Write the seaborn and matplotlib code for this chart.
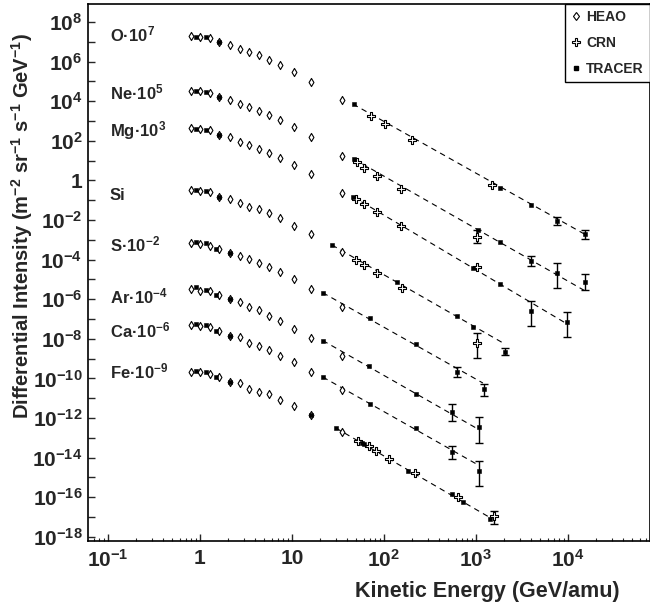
import matplotlib
matplotlib.use("Agg")
import matplotlib.pyplot as plt
import numpy as np
import pandas as pd
import seaborn as sns
from matplotlib.lines import Line2D
from matplotlib.ticker import FixedLocator, FixedFormatter, LogLocator, NullFormatter

# ---------------------------------------------------------------- data
elements = ["O", "Ne", "Mg", "Si", "S", "Ar", "Ca", "Fe"]
element_labels = ["O·10$^{7}$", "Ne·10$^{5}$", "Mg·10$^{3}$", "Si",
                  "S·10$^{-2}$", "Ar·10$^{-4}$", "Ca·10$^{-6}$", "Fe·10$^{-9}$"]

# HEAO-3 spectra (scaled), GeV/amu
heao_energy = [0.8, 1.0, 1.3, 1.6, 2.1, 2.7, 3.4, 4.4, 5.6, 7.5, 10.6, 16.2, 35.0]
heao_O = [2.03e7, 1.81e7, 1.61e7, 9.4e6, 6.9e6, 4.3e6, 3.2e6, 2.15e6, 1.2e6, 6.7e5, 3.0e5, 9.7e4, 1.15e4]
heao_Ne = [3.39e4, 3.09e4, 2.75e4, 1.57e4, 1.15e4, 7.2e3, 4.9e3, 3.3e3, 1.94e3, 1.12e3, 481, 161, 17.7]
heao_Mg = [428, 394, 351, 196, 150, 90, 61, 38.5, 25, 14, 6.0, 2.1, 0.239]
heao_Si = [0.327, 0.299, 0.265, 0.150, 0.111, 0.070, 0.047, 0.035, 0.0218, 0.0122, 5.15e-3, 1.96e-3, 2.34e-4]
heao_S = [7.1e-4, 6.5e-4, 4.9e-4, 3.3e-4, 2.23e-4, 1.57e-4, 1.07e-4, 7.0e-5, 4.4e-5, 2.29e-5, 1.01e-5, 3.3e-6, 4.2e-7]
heao_Ar = [3.16e-6, 2.75e-6, 2.6e-6, 1.63e-6, 9.9e-7, 7.5e-7, 3.9e-7, 2.85e-7, 1.47e-7, 7.9e-8, 3.1e-8, 1.06e-8, 1.3e-9]
heao_Ca = [4.98e-8, 4.43e-8, 3.94e-8, 2.48e-8, 1.44e-8, 1.19e-8, 6.4e-9, 4.5e-9, 2.7e-9, 1.35e-9, 6.5e-10, 2.18e-10, 2.6e-11]
heao_Fe = [2.18e-10, 1.99e-10, 1.67e-10, 1.14e-10, 6.8e-11, 5.7e-11, 2.8e-11, 2.13e-11, 1.63e-11, 8.1e-12, 4.0e-12, 1.42e-12, 1.96e-13]

# low-energy square points
lowsq_e_O = [0.9, 1.15, 1.6]
lowsq_f_O = [1.85e7, 1.69e7, 9.4e6]
lowsq_e_Ne = [0.9, 1.15, 1.6]
lowsq_f_Ne = [3.25e4, 2.9e4, 1.57e4]
lowsq_e_Mg = [0.9, 1.15, 1.6]
lowsq_f_Mg = [410, 372, 196]
lowsq_e_Si = [0.9, 1.15, 1.6]
lowsq_f_Si = [0.313, 0.28, 0.150]
lowsq_e_S = [0.9, 1.15, 1.5, 2.1]
lowsq_f_S = [8.0e-4, 6.9e-4, 3.4e-4, 2.23e-4]
lowsq_e_Ar = [0.9, 1.15, 1.5, 2.1]
lowsq_f_Ar = [4.0e-6, 2.9e-6, 1.7e-6, 9.9e-7]
lowsq_e_Ca = [0.9, 1.15, 1.5, 2.1]
lowsq_f_Ca = [5.9e-8, 4.7e-8, 2.55e-8, 1.44e-8]
lowsq_e_Fe = [0.9, 1.15, 1.5, 2.1, 16.2]
lowsq_f_Fe = [2.5e-10, 2.1e-10, 1.17e-10, 6.8e-11, 1.42e-12]

# TRACER: energy, flux, lower / upper error bound
tracer_e_O = [47.2, 1824, 3935, 7650, 15300]
tracer_f_O = [7.2e3, 0.428, 0.0573, 9.2e-3, 1.9e-3]
tracer_lo_O = [7.2e3, 0.428, 0.0573, 5.4e-3, 1.14e-3]
tracer_hi_O = [7.2e3, 0.428, 0.0573, 0.0147, 3.13e-3]
tracer_e_Ne = [47.2, 1059, 1824, 3935, 7650, 15300]
tracer_f_Ne = [12.1, 3.13e-3, 7.5e-4, 8.8e-5, 2.18e-5, 7.7e-6]
tracer_lo_Ne = [12.1, 3.13e-3, 7.5e-4, 4.75e-5, 3.81e-6, 2.92e-6]
tracer_hi_Ne = [12.1, 3.13e-3, 7.5e-4, 1.57e-4, 6.97e-5, 1.81e-5]
tracer_e_Mg = [46.4, 935, 1824, 3935, 9820]
tracer_f_Mg = [0.150, 3.64e-5, 6.2e-6, 2.54e-7, 7.3e-8]
tracer_lo_Mg = [0.150, 3.64e-5, 6.2e-6, 4.43e-8, 1.19e-8]
tracer_hi_Mg = [0.150, 3.64e-5, 6.2e-6, 8.1e-7, 2.34e-7]
tracer_e_Si = [27.4, 137, 617, 921, 2065]
tracer_f_Si = [5.46e-4, 7.7e-6, 1.42e-7, 4.08e-8, 2.23e-9]
tracer_lo_Si = [5.46e-4, 7.7e-6, 1.42e-7, 4.08e-8, 1.52e-9]
tracer_hi_Si = [5.46e-4, 7.7e-6, 1.42e-7, 4.08e-8, 3.56e-9]
tracer_e_S = [21.6, 70, 221, 630, 1230]
tracer_f_S = [2.13e-6, 1.16e-7, 5.3e-9, 2.18e-10, 2.92e-11]
tracer_lo_S = [2.13e-6, 1.16e-7, 5.3e-9, 1.14e-10, 1.29e-11]
tracer_hi_S = [2.13e-6, 1.16e-7, 5.3e-9, 3.9e-10, 5.5e-11]
tracer_e_Ar = [21.6, 69.5, 221, 556, 1086]
tracer_f_Ar = [8.2e-9, 4.23e-10, 1.59e-11, 2.08e-12, 3.5e-13]
tracer_lo_Ar = [8.2e-9, 4.23e-10, 1.59e-11, 7.3e-13, 5.7e-14]
tracer_hi_Ar = [8.2e-9, 4.23e-10, 1.59e-11, 4.92e-12, 1.16e-12]
tracer_e_Ca = [21.6, 70.5, 221, 556, 1086]
tracer_f_Ca = [1.18e-10, 4.92e-12, 3.0e-13, 1.92e-14, 2.1e-15]
tracer_lo_Ca = [1.18e-10, 4.92e-12, 3.0e-13, 9.0e-15, 3.7e-16]
tracer_hi_Ca = [1.18e-10, 4.92e-12, 3.0e-13, 3.86e-14, 6.7e-15]
tracer_e_Fe = [30.1, 58.1, 60.6, 181, 556, 728, 1409]
tracer_f_Fe = [3.1e-13, 5.7e-14, 4.86e-14, 2.18e-15, 1.45e-16, 5.7e-17, 8.2e-18]
tracer_lo_Fe = [3.1e-13, 5.7e-14, 4.86e-14, 2.18e-15, 1.45e-16, 5.7e-17, 8.2e-18]
tracer_hi_Fe = [3.1e-13, 5.7e-14, 4.86e-14, 2.18e-15, 1.45e-16, 5.7e-17, 8.2e-18]

# CRN
crn_e_O = [71.6, 102.5, 203, 1482]
crn_f_O = [1.85e3, 705, 110, 0.566]
crn_lo_O = [1.85e3, 705, 110, 0.566]
crn_hi_O = [1.85e3, 705, 110, 0.566]
crn_e_Ne = [50.5, 61.1, 83.3, 152, 1018]
crn_f_Ne = [8.8, 4.08, 1.67, 0.368, 1.44e-3]
crn_lo_Ne = [8.8, 4.08, 1.67, 0.368, 7.1e-4]
crn_hi_Ne = [8.8, 4.08, 1.67, 0.368, 3.13e-3]
crn_e_Mg = [49.6, 61.1, 83.3, 152, 1018]
crn_f_Mg = [0.115, 0.062, 0.0262, 5.15e-3, 4.38e-5]
crn_lo_Mg = [0.115, 0.062, 0.0262, 5.15e-3, 4.38e-5]
crn_hi_Mg = [0.115, 0.062, 0.0262, 5.15e-3, 4.38e-5]
crn_e_Si = [49.6, 60.6, 83.3, 156, 1018]
crn_f_Si = [9.5e-5, 5.33e-5, 2.18e-5, 3.81e-6, 5.9e-9]
crn_lo_Si = [9.5e-5, 5.33e-5, 2.18e-5, 3.81e-6, 1.04e-9]
crn_hi_Si = [9.5e-5, 5.33e-5, 2.18e-5, 3.81e-6, 1.9e-8]
crn_e_Fe = [51.9, 68.4, 81.5, 114, 219, 643, 1553]
crn_f_Fe = [7.1e-14, 3.94e-14, 2.15e-14, 8.2e-15, 1.73e-15, 1.02e-16, 1.08e-17]
crn_lo_Fe = [7.1e-14, 3.94e-14, 2.15e-14, 8.2e-15, 1.73e-15, 1.02e-16, 4.65e-18]
crn_hi_Fe = [7.1e-14, 3.94e-14, 2.15e-14, 8.2e-15, 1.73e-15, 1.02e-16, 2.06e-17]

# power-law fits: flux = norm * (E / emin)^-gamma between emin and emax
fit_emin = [46, 47, 46, 27.2, 21.6, 21.6, 21.6, 30.1]
fit_emax = [16500, 16100, 9750, 1965, 1190, 1105, 1052, 1385]
fit_norm = [7.2e3, 12.1, 0.150, 5.46e-4, 2.13e-6, 8.2e-9, 1.18e-10, 3.1e-13]
fit_gamma = [2.61, 2.65, 2.76, 2.66, 2.62, 2.65, 2.63, 2.70]

# ---------------------------------------------------------------- tables
heao_flux = [heao_O, heao_Ne, heao_Mg, heao_Si, heao_S, heao_Ar, heao_Ca, heao_Fe]
heao_df = pd.DataFrame({
    "element": np.repeat(elements, len(heao_energy)),
    "energy": heao_energy * len(elements),
    "flux": np.concatenate(heao_flux),
})

lowsq_df = pd.DataFrame({
    "energy": lowsq_e_O + lowsq_e_Ne + lowsq_e_Mg + lowsq_e_Si
              + lowsq_e_S + lowsq_e_Ar + lowsq_e_Ca + lowsq_e_Fe,
    "flux": lowsq_f_O + lowsq_f_Ne + lowsq_f_Mg + lowsq_f_Si
            + lowsq_f_S + lowsq_f_Ar + lowsq_f_Ca + lowsq_f_Fe,
})

tracer_df = pd.DataFrame({
    "energy": tracer_e_O + tracer_e_Ne + tracer_e_Mg + tracer_e_Si
              + tracer_e_S + tracer_e_Ar + tracer_e_Ca + tracer_e_Fe,
    "flux": tracer_f_O + tracer_f_Ne + tracer_f_Mg + tracer_f_Si
            + tracer_f_S + tracer_f_Ar + tracer_f_Ca + tracer_f_Fe,
    "lo": tracer_lo_O + tracer_lo_Ne + tracer_lo_Mg + tracer_lo_Si
          + tracer_lo_S + tracer_lo_Ar + tracer_lo_Ca + tracer_lo_Fe,
    "hi": tracer_hi_O + tracer_hi_Ne + tracer_hi_Mg + tracer_hi_Si
          + tracer_hi_S + tracer_hi_Ar + tracer_hi_Ca + tracer_hi_Fe,
})

crn_df = pd.DataFrame({
    "energy": crn_e_O + crn_e_Ne + crn_e_Mg + crn_e_Si + crn_e_Fe,
    "flux": crn_f_O + crn_f_Ne + crn_f_Mg + crn_f_Si + crn_f_Fe,
    "lo": crn_lo_O + crn_lo_Ne + crn_lo_Mg + crn_lo_Si + crn_lo_Fe,
    "hi": crn_hi_O + crn_hi_Ne + crn_hi_Mg + crn_hi_Si + crn_hi_Fe,
})

fit_rows = []
for el, e0, e1, n0, g in zip(elements, fit_emin, fit_emax, fit_norm, fit_gamma):
    for e in (e0, e1):
        fit_rows.append({"element": el, "energy": e, "flux": n0 * (e / e0) ** (-g)})
fit_df = pd.DataFrame(fit_rows)

# ---------------------------------------------------------------- style
sns.set_style("ticks")
plt.rcParams["font.family"] = ["Liberation Sans", "DejaVu Sans"]
plt.rcParams["font.weight"] = "bold"
plt.rcParams["axes.labelweight"] = "bold"
plt.rcParams["mathtext.fontset"] = "custom"
plt.rcParams["mathtext.rm"] = "Liberation Sans:bold"
plt.rcParams["mathtext.bf"] = "Liberation Sans:bold"
plt.rcParams["mathtext.it"] = "Liberation Sans:bold"
plt.rcParams["mathtext.sf"] = "Liberation Sans:bold"
plt.rcParams["mathtext.default"] = "bf"

fig = plt.figure(figsize=(6.5, 6.12), dpi=100)
ax = fig.add_axes([88 / 650, 71 / 612, 562 / 650, 537 / 612])
ax.set_xscale("log")
ax.set_yscale("log")

# dashed power-law fits
sns.lineplot(data=fit_df, x="energy", y="flux", units="element", estimator=None,
             color="black", linewidth=0.8, linestyle=(0, (5, 4)), ax=ax,
             legend=False, zorder=1)

# error bars
for df in (tracer_df, crn_df):
    m = (df["lo"] < df["flux"]) | (df["hi"] > df["flux"])
    sub = df[m]
    ax.errorbar(sub["energy"], sub["flux"],
                yerr=[sub["flux"] - sub["lo"], sub["hi"] - sub["flux"]],
                fmt="none", ecolor="black", elinewidth=1.0, capsize=2.8,
                capthick=1.0, zorder=2)

sns.scatterplot(data=heao_df, x="energy", y="flux", marker="d", s=17,
                color="white", edgecolor="black", linewidth=0.8, ax=ax,
                legend=False, zorder=3)
sns.scatterplot(data=lowsq_df, x="energy", y="flux", marker="s", s=9,
                color="black", edgecolor="black", linewidth=0.4, ax=ax,
                legend=False, zorder=4)
sns.scatterplot(data=crn_df, x="energy", y="flux", marker="P", s=32,
                color="white", edgecolor="black", linewidth=0.8, ax=ax,
                legend=False, zorder=3)
sns.scatterplot(data=tracer_df, x="energy", y="flux", marker="s", s=11,
                color="black", edgecolor="black", linewidth=0.4, ax=ax,
                legend=False, zorder=4)

# ---------------------------------------------------------------- axes
ax.set_xlim(0.0607, 7.8e4)
ax.set_ylim(10 ** -18.212, 10 ** 8.909)

xt = [0.1, 1, 10, 100, 1000, 10000]
xt_labels = ["10$^{-1}$", "1", "10", "10$^{2}$", "10$^{3}$", "10$^{4}$"]
ax.xaxis.set_major_locator(FixedLocator(xt))
ax.xaxis.set_major_formatter(FixedFormatter(xt_labels))
ax.xaxis.set_minor_locator(LogLocator(base=10, subs=np.arange(2, 10), numticks=20))
ax.xaxis.set_minor_formatter(NullFormatter())

y_exp = np.arange(-18, 9)
yt = [10.0 ** k for k in y_exp]
yt_labels = [("1" if k == 0 else "10$^{%d}$" % k) if k % 2 == 0 else "" for k in y_exp]
ax.yaxis.set_major_locator(FixedLocator(yt))
ax.yaxis.set_major_formatter(FixedFormatter(yt_labels))
ax.yaxis.set_minor_locator(FixedLocator([]))

ax.tick_params(which="major", direction="in", length=5, width=1.0,
               labelsize=15, top=False, right=False)
ax.tick_params(axis="x", which="major", pad=6)
ax.tick_params(axis="y", which="major", pad=4)
ax.tick_params(which="minor", direction="in", length=2.5, width=0.8,
               top=False, right=False)
for sp in ax.spines.values():
    sp.set_linewidth(1.2)
    sp.set_color("black")

ax.set_xlabel("")
ax.set_ylabel("")
fig.text(22 / 650, 1 - 226 / 612,
         "Differential Intensity (m$^{-2}$ sr$^{-1}$ s$^{-1}$ GeV$^{-1}$)",
         rotation=90, ha="center", va="center", fontsize=14.5, fontweight="bold")
fig.text(620 / 650, 1 - 592 / 612, "Kinetic Energy (GeV/amu)",
         ha="right", va="center", fontsize=15.5, fontweight="bold")

label_y = [0.930, 0.8225, 0.754, 0.635, 0.5387, 0.4426, 0.3786, 0.303]
for txt, yy in zip(element_labels, label_y):
    ax.text(0.039, yy, txt, transform=ax.transAxes, ha="left", va="baseline",
            fontsize=12, fontweight="bold")

handles = [
    Line2D([], [], marker="d", linestyle="none", markersize=4.5,
           markerfacecolor="white", markeredgecolor="black", markeredgewidth=0.8),
    Line2D([], [], marker="P", linestyle="none", markersize=6,
           markerfacecolor="white", markeredgecolor="black", markeredgewidth=0.8),
    Line2D([], [], marker="s", linestyle="none", markersize=3.3,
           markerfacecolor="black", markeredgecolor="black"),
]
leg = ax.legend(handles, ["HEAO", "CRN", "TRACER"], loc="upper right",
                bbox_to_anchor=(1.0, 1.0), frameon=True, fancybox=False,
                edgecolor="black", framealpha=1, borderpad=0.45,
                labelspacing=0.85, handlelength=0.6, handletextpad=0.45,
                borderaxespad=0.0, prop={"weight": "bold", "size": 10})
leg.get_frame().set_linewidth(1.0)

fig.savefig("out.png", dpi=100)
